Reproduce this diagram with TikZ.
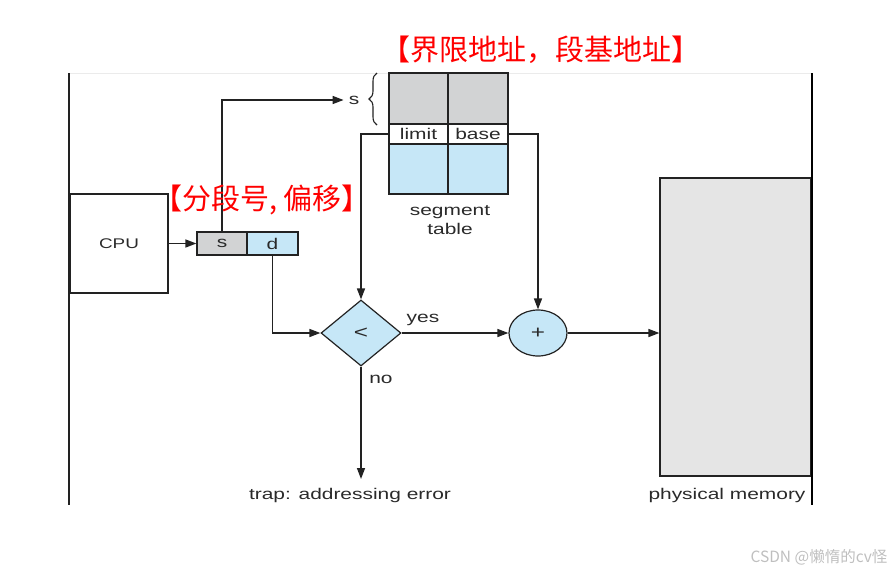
\documentclass[tikz,border=0pt]{standalone}
\usepackage{fontspec}
\setmainfont{Liberation Sans}
\newfontfamily\latw{Liberation Sans}[FakeStretch=1.35]
\newfontfamily\cjk{Noto Sans CJK SC}
\usetikzlibrary{shapes.geometric,arrows.meta,decorations.pathreplacing}
\definecolor{lineC}{HTML}{222222}
\definecolor{cellgray}{HTML}{D2D3D4}
\definecolor{cellblue}{HTML}{C6E7F7}
\definecolor{memgray}{HTML}{E5E5E5}
\definecolor{txtC}{HTML}{2A2A2A}
\definecolor{annot}{HTML}{FF0000}
\tikzset{
  box/.style={draw=lineC, line width=1.2pt, rectangle, inner sep=0pt},
  lbl/.style={text=txtC, font=\latw\fontsize{15.5}{18}\selectfont, inner sep=0pt},
  conn/.style={draw=lineC, line width=1.5pt, -{Triangle[length=11pt,width=8pt]}},
  redtxt/.style={text=annot, font=\cjk\fontsize{29}{32}\selectfont, inner sep=0pt},
}
\begin{document}
\begin{tikzpicture}[x=1pt,y=-1pt]
\useasboundingbox (0,0) rectangle (895,574);
% frame
\draw[draw=black!8, line width=0.8pt] (69,73) -- (812,73);
\draw[draw=lineC, line width=1.2pt] (69,73) -- (69,505);
% memory
\node[box, fill=memgray, minimum width=151pt, minimum height=298pt] (mem) at (735.5,327) {};
\draw[draw=black, line width=2pt] (812,73) -- (812,505);
% CPU
\node[box, minimum width=98pt, minimum height=99pt, lbl, font=\latw\fontsize{14}{16}\selectfont] (cpu) at (119,243.5) {CPU};
% register
\node[box, fill=cellgray, minimum width=50pt, minimum height=23pt, lbl] (sreg) at (222,243.5) {s};
\node[box, fill=cellblue, minimum width=51pt, minimum height=23pt, lbl] (dreg) at (272.5,243.5) {d};
% segment table
\node[box, fill=cellgray, minimum width=59pt, minimum height=51pt] (g1) at (418.5,98.5) {};
\node[box, fill=cellgray, minimum width=60pt, minimum height=51pt] (g2) at (478,98.5) {};
\node[box, fill=white, minimum width=59pt, minimum height=20pt, lbl] (lim) at (418.5,134) {limit};
\node[box, fill=white, minimum width=60pt, minimum height=20pt, lbl] (bas) at (478,134) {base};
\node[box, fill=cellblue, minimum width=59pt, minimum height=50pt] (b1) at (418.5,169) {};
\node[box, fill=cellblue, minimum width=60pt, minimum height=50pt] (b2) at (478,169) {};
\node[lbl, align=center] (segt) at (450,220) {segment\\[1pt]table};
% brace + s label
\draw[draw=lineC, line width=1.1pt, decorate, decoration={brace, amplitude=8pt}] (377,125) -- (377,73);
\node[lbl] (slab) at (354,100) {s};
% diamond and adder
\node[draw=lineC, line width=1.2pt, fill=cellblue, shape=diamond, minimum width=80pt, minimum height=66pt, inner sep=0pt, lbl, font=\latw\fontsize{18}{20}\selectfont] (dia) at (361,333) {<};
\node[draw=lineC, line width=1.2pt, fill=cellblue, shape=ellipse, minimum width=58pt, minimum height=46pt, inner sep=0pt, lbl, font=\latw\fontsize{18}{20}\selectfont] (add) at (538,333) {+};
% labels
\node[lbl] (yes) at (423,320) {yes};
\node[lbl] (no) at (381,379) {no};
\node[lbl] (trap) at (350,495) {trap: addressing error};
\node[lbl] (pm) at (727,495) {physical memory};
\coordinate (trapend) at (361,479);
% connectors
\draw[conn] (cpu.east) -- (sreg.west);
\draw[conn] (sreg.north) |- ([xshift=-5pt]slab.west);
\draw[conn] (lim.west) -| (dia.north);
\draw[conn] (bas.east) -| (add.north);
\draw[conn] (dreg.south) |- (dia.west);
\draw[conn] (dia.east) -- (add.west);
\draw[conn] (add.east) -- (add.east -| mem.west);
\draw[conn] (dia.south) -- (trapend);
% annotations
\node[redtxt] (a1) at (541,50) {【界限地址，段基地址】};
\node[redtxt] (a2) at (262,200) {【分段号, 偏移】};
\node[text=black!25, font=\cjk\fontsize{15.5}{18}\selectfont, inner sep=0pt] (wm) at (819,557) {CSDN @懒惰的cv怪};
\end{tikzpicture}
\end{document}
